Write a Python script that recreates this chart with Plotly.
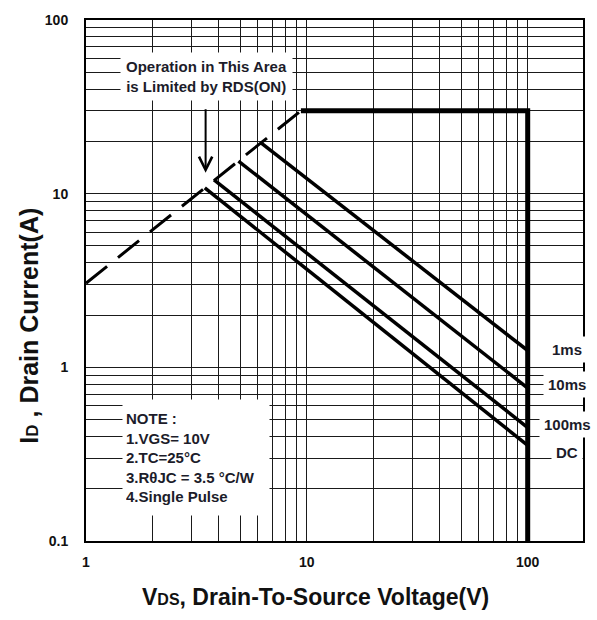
import math
import plotly.graph_objects as go

# ---------------- data ----------------
rds_v = [1.0, 9.4]          # RDS(ON) limit line (dashed)
rds_i = [3.05, 30.0]

limit_v = [9.4, 100.0, 100.0]   # current / voltage limit (thick)
limit_i = [30.0, 30.0, 0.1]

pulse_names = ["1ms", "10ms", "100ms", "DC"]
pulse_v_start = [6.2, 4.9, 3.8, 3.45]
pulse_i_start = [19.6, 15.4, 12.0, 10.8]
pulse_v_end = [100.0, 100.0, 100.0, 100.0]
pulse_i_end = [1.25, 0.76, 0.45, 0.355]

arrow_v = 3.48
arrow_i = 13.2

x_ticks = [1, 2, 3, 4, 5, 6, 7, 8, 9,
           10, 20, 30, 40, 50, 60, 70, 80, 90, 100]
x_tick_labels = ["1", "", "", "", "", "", "", "", "",
                 "10", "", "", "", "", "", "", "", "", "100"]
y_ticks = [0.1, 0.2, 0.3, 0.4, 0.5, 0.6, 0.7, 0.8, 0.9,
           1, 2, 3, 4, 5, 6, 7, 8, 9,
           10, 20, 30, 40, 50, 60, 70, 80, 90, 100]
y_tick_labels = ["0.1", "", "", "", "", "", "", "", "",
                 "1", "", "", "", "", "", "", "", "",
                 "10", "", "", "", "", "", "", "", "", "100"]

FONT = "Liberation Sans"
TXT = "#1c1c2a"

fig = go.Figure()

fig.add_trace(go.Scatter(x=rds_v, y=rds_i, mode="lines",
                         line=dict(color="black", width=3, dash="27px,14px"),
                         hoverinfo="skip", showlegend=False))
fig.add_trace(go.Scatter(x=limit_v, y=limit_i, mode="lines",
                         line=dict(color="black", width=5),
                         hoverinfo="skip", showlegend=False))
for name, v0, i0, v1, i1 in zip(pulse_names, pulse_v_start, pulse_i_start,
                                pulse_v_end, pulse_i_end):
    fig.add_trace(go.Scatter(x=[v0, v1], y=[i0, i1], mode="lines", name=name,
                             line=dict(color="black", width=3.5),
                             hoverinfo="skip", showlegend=False))

axis_common = dict(type="log", showgrid=True, gridcolor="#1a1a1a", gridwidth=1.2,
                   showline=True, linecolor="black", linewidth=2, mirror=True,
                   ticks="", zeroline=False,
                   tickfont=dict(family=FONT, size=14, color="#111", weight="bold"))

fig.update_xaxes(range=[0, math.log10(178)], tickvals=x_ticks, ticktext=x_tick_labels,
                 ticklabelstandoff=7, **axis_common)
fig.update_yaxes(range=[-1, 2], tickvals=y_ticks, ticktext=y_tick_labels,
                 ticklabelstandoff=13, **axis_common)

ann_font = dict(family=FONT, size=15, color=TXT, weight="bold")

annotations = []
annotations.append(dict(xref="paper", yref="paper", x=0.2425, y=0.8916,
                        text="Operation in This Area<br>is Limited by RDS(ON)",
                        showarrow=False, bgcolor="white", borderpad=5,
                        font=ann_font, xanchor="center", yanchor="middle"))
annotations.append(dict(xref="x", yref="y", x=math.log10(arrow_v), y=math.log10(arrow_i),
                        text="", showarrow=True, ax=0, ay=-65, arrowhead=5,
                        arrowsize=1.3, arrowwidth=2, arrowcolor="black", standoff=0))
annotations.append(dict(xref="paper", yref="paper", x=0.072, y=0.161,
                        text="NOTE :<br>1.VGS= 10V<br>2.TC=25°C<br>3.RθJC = 3.5 °C/W<br>4.Single Pulse",
                        showarrow=False, bgcolor="white", borderpad=3, align="left",
                        width=140, height=109, valign="middle",
                        font=ann_font, xanchor="left", yanchor="middle"))
label_y = [0.367, 0.300, 0.224, 0.169]
for name, ly in zip(pulse_names, label_y):
    annotations.append(dict(xref="paper", yref="paper", x=0.968, y=ly, text=name,
                            showarrow=False, bgcolor="white", borderpad=4,
                            font=ann_font, xanchor="center", yanchor="middle"))

annotations.append(dict(xref="paper", yref="paper", x=0.461, y=-0.108,
                        text="V<span style='font-size:16px'>DS</span>, Drain-To-Source Voltage(V)",
                        showarrow=False, font=dict(family=FONT, size=23, color="#111", weight="bold"),
                        xanchor="center", yanchor="middle"))
annotations.append(dict(xref="paper", yref="paper", x=-0.114, y=0.414, textangle=-90,
                        text="I<span style='font-size:17px'>D</span> , Drain Current(A)",
                        showarrow=False, font=dict(family=FONT, size=25, color="#111", weight="bold"),
                        xanchor="center", yanchor="middle"))

fig.update_layout(width=597, height=620, margin=dict(l=86, r=12, t=15, b=79),
                  paper_bgcolor="white", plot_bgcolor="white",
                  annotations=annotations, showlegend=False)

fig.write_html("out.html")
